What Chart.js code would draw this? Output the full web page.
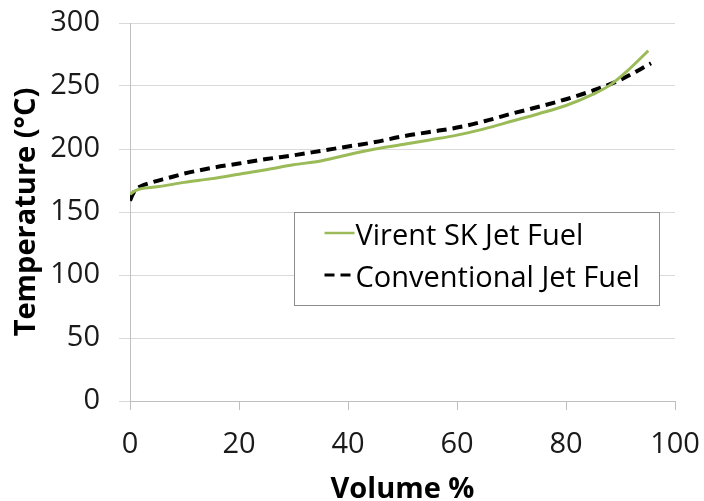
<!DOCTYPE html>
<html>
<head>
<meta charset="utf-8">
<script src="https://cdn.jsdelivr.net/npm/chart.js@4/dist/chart.umd.min.js"></script>
<style>
  html, body { margin: 0; padding: 0; background: #ffffff; }
  #wrap { width: 704px; height: 501px; position: relative; }
</style>
</head>
<body>
<div id="wrap"><canvas id="c" width="704" height="501"></canvas></div>
<script>
// ---- Data ----
const seriesNames = ["Virent SK Jet Fuel", "Conventional Jet Fuel"];
const virentVolume = [0, 1, 2, 5, 10, 15, 20, 25, 30, 35, 40, 45, 50, 55, 60, 65, 70, 75, 80, 85, 88, 91, 95.1];
const virentTemp   = [164, 167, 168.5, 170, 173.5, 176.5, 180, 183.5, 187.5, 190.5, 195.5, 200, 203.5, 207.2, 211, 216, 222, 228, 234.5, 243.5, 250.5, 261, 278];
const convVolume   = [0, 0.5, 1, 2, 4, 7, 10, 15, 20, 25, 30, 35, 40, 45, 50, 55, 60, 65, 70, 75, 80, 85, 90, 95.6];
const convTemp     = [159, 164, 167.5, 170.5, 173.5, 177, 180.5, 185, 188.5, 192, 195, 198.5, 202, 205.5, 210, 213.5, 217, 222, 228, 233.5, 239.5, 246.5, 255, 268];
const xTicks = [0, 20, 40, 60, 80, 100];
const yTicks = [0, 50, 100, 150, 200, 250, 300];
const xTitle = "Volume %";
const yTitle = "Temperature (°C)";

const toPoints = (xs, ys) => xs.map((x, i) => ({ x: x, y: ys[i] }));

const FONT = "'Open Sans', 'Liberation Sans', sans-serif";

// Legend drawn inside the plot area, as in the reference
const boxLegend = {
  id: 'boxLegend',
  afterDraw(chart) {
    const ctx = chart.ctx;
    const xs = chart.scales.x, ys = chart.scales.y;
    const left = Math.round(xs.getPixelForValue(30)) + 0.5;
    const right = Math.round(xs.getPixelForValue(97)) + 0.5;
    const top = Math.round(ys.getPixelForValue(150)) + 0.5;
    const bottom = Math.round(ys.getPixelForValue(76)) + 0.5;
    ctx.save();
    ctx.fillStyle = '#ffffff';
    ctx.fillRect(left, top, right - left, bottom - top);
    ctx.strokeStyle = '#8c8c8c';
    ctx.lineWidth = 1;
    ctx.strokeRect(left, top, right - left, bottom - top);
    chart.data.datasets.forEach((ds, i) => {
      const cy = top + 24.5 + 42 * i;
      const sx = left + 30, ex = left + 60;
      ctx.beginPath();
      ctx.strokeStyle = ds.borderColor;
      ctx.lineWidth = i === 0 ? 2.5 : 3;
      ctx.setLineDash(ds.borderDash || []);
      ctx.moveTo(sx, cy - 4);
      ctx.lineTo(ex, cy - 4);
      ctx.stroke();
      ctx.setLineDash([]);
      ctx.fillStyle = '#000000';
      ctx.font = "29px " + FONT;
      ctx.textBaseline = 'middle';
      ctx.textAlign = 'left';
      ctx.fillText(ds.label, ex + 1, cy);
    });
    ctx.restore();
  }
};

new Chart(document.getElementById('c'), {
  type: 'line',
  data: {
    datasets: [
      {
        label: seriesNames[0],
        data: toPoints(virentVolume, virentTemp),
        borderColor: '#9BBB59',
        borderWidth: 3,
        pointRadius: 0,
        cubicInterpolationMode: 'monotone',
        fill: false
      },
      {
        label: seriesNames[1],
        data: toPoints(convVolume, convTemp),
        borderColor: '#000000',
        borderWidth: 4,
        borderDash: [10, 6],
        pointRadius: 0,
        cubicInterpolationMode: 'monotone',
        fill: false
      }
    ]
  },
  options: {
    responsive: false,
    animation: false,
    devicePixelRatio: 1,
    layout: { padding: { top: 23, right: 29, left: 0, bottom: 0 } },
    plugins: {
      legend: { display: false },
      tooltip: { enabled: false }
    },
    scales: {
      x: {
        type: 'linear',
        min: 0, max: 100,
        afterBuildTicks: (s) => { s.ticks = xTicks.map(v => ({ value: v })); },
        afterFit: (s) => { s.height = 100; s.paddingLeft = 0; s.paddingRight = 0; },
        grid: {
          drawOnChartArea: false,
          drawTicks: true,
          tickLength: 9,
          color: '#bfbfbf'
        },
        border: { color: '#bfbfbf', width: 1 },
        ticks: {
          color: '#1a1a1a',
          padding: 17,
          font: { family: FONT, size: 29 },
          maxRotation: 0
        },
        title: {
          display: true,
          text: xTitle,
          color: '#000000',
          font: { family: FONT, size: 29, weight: 'bold', lineHeight: 1.0 },
          padding: { top: 0, bottom: -3 }
        }
      },
      y: {
        type: 'linear',
        min: 0, max: 300,
        afterBuildTicks: (s) => { s.ticks = yTicks.map(v => ({ value: v })); },
        afterFit: (s) => { s.width = 130; s.paddingTop = 0; s.paddingBottom = 0; },
        grid: {
          drawOnChartArea: true,
          drawTicks: true,
          tickLength: 11,
          color: '#d9d9d9'
        },
        border: { color: '#bfbfbf', width: 1 },
        ticks: {
          color: '#1a1a1a',
          padding: 19,
          font: { family: FONT, size: 29 }
        },
        title: {
          display: true,
          text: yTitle,
          color: '#000000',
          font: { family: FONT, size: 29, weight: 'bold', lineHeight: 1.0 },
          padding: { top: 12, bottom: 0 }
        }
      }
    }
  },
  plugins: [boxLegend]
});
</script>
</body>
</html>
